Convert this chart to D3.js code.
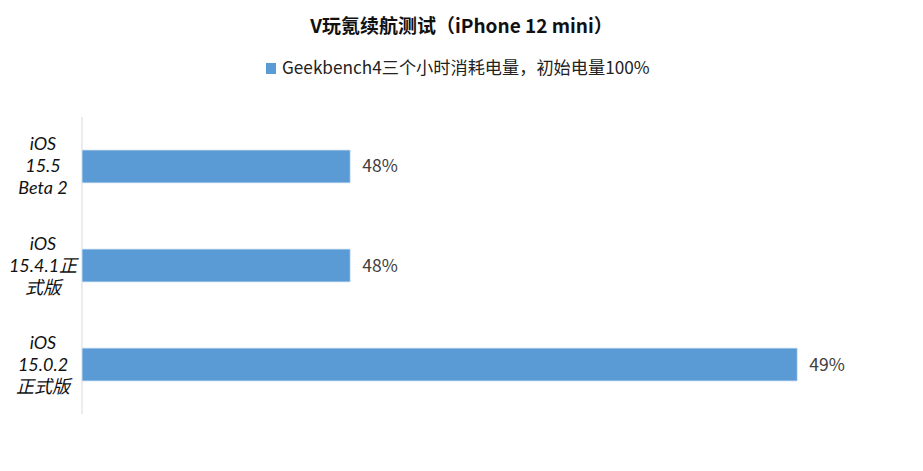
<!DOCTYPE html>
<html>
<head>
<meta charset="utf-8">
<script src="https://cdn.jsdelivr.net/npm/d3@7"></script>
<style>
  body { margin: 0; background: #fff; }
  text { font-family: "Noto Sans CJK SC", "Noto Sans", sans-serif; }
  .cat { font-family: Lato, "Noto Sans CJK SC", sans-serif; }
</style>
</head>
<body>
<div id="chart"></div>
<script>
// chart data
const categories = [
  ["iOS", "15.5", "Beta 2"],
  ["iOS", "15.4.1正", "式版"],
  ["iOS", "15.0.2", "正式版"]
];
const values = [48, 48, 49];
const valueLabels = ["48%", "48%", "49%"];
const seriesName = "Geekbench4三个小时消耗电量，初始电量100%";
const title = "V玩氪续航测试（iPhone 12 mini）";

const width = 923, height = 471;
const margin = { top: 117, right: 73, bottom: 57, left: 82 };

const svg = d3.select("#chart").append("svg")
  .attr("width", width)
  .attr("height", height);

// value axis doesn't start at zero (auto axis from the spreadsheet)
const x = d3.scaleLinear()
  .domain([47.4, 49.118])
  .range([margin.left, width - margin.right]);

const y = d3.scaleBand()
  .domain(d3.range(categories.length))
  .range([margin.top, height - margin.bottom])
  .paddingInner(0.667)
  .paddingOuter(0.333);

svg.append("text")
  .attr("x", width / 2)
  .attr("y", 33)
  .attr("text-anchor", "middle")
  .attr("font-size", 19)
  .attr("font-weight", "bold")
  .attr("fill", "#111")
  .text(title);

// legend
const legend = svg.append("g").attr("transform", "translate(266,63)");
legend.append("rect")
  .attr("width", 10).attr("height", 11)
  .attr("fill", "#5B9BD5");
legend.append("text")
  .attr("x", 16).attr("y", 11)
  .attr("font-size", 17.2)
  .attr("fill", "#222")
  .text(seriesName);

// category axis line
svg.append("line")
  .attr("x1", margin.left).attr("x2", margin.left)
  .attr("y1", margin.top).attr("y2", height - margin.bottom)
  .attr("stroke", "#d9d9d9");

svg.append("g")
  .selectAll("rect")
  .data(values)
  .join("rect")
  .attr("x", margin.left)
  .attr("y", (d, i) => y(i))
  .attr("width", d => x(d) - margin.left)
  .attr("height", y.bandwidth())
  .attr("fill", "#5B9BD5")
  .attr("stroke", "#dbe8f5")
  .attr("stroke-width", 0.8);

svg.append("g")
  .selectAll("text")
  .data(values)
  .join("text")
  .attr("x", d => x(d) + 12)
  .attr("y", (d, i) => y(i) + y.bandwidth() / 2 + 6)
  .attr("font-size", 17.5)
  .attr("fill", "#404040")
  .text((d, i) => valueLabels[i]);

// multi-line category labels, one text per line
const catGroups = svg.append("g")
  .selectAll("g")
  .data(categories)
  .join("g")
  .attr("transform", (d, i) => `translate(43,${y(i) + y.bandwidth() / 2 + 6})`);

catGroups.selectAll("text")
  .data(d => d)
  .join("text")
  .attr("class", "cat")
  .attr("x", 0)
  .attr("y", (d, j) => (j - 1) * 22)
  .attr("text-anchor", "middle")
  .attr("font-size", 18)
  .attr("font-style", "italic")
  .attr("fill", "#111")
  .text(d => d);
</script>
</body>
</html>
